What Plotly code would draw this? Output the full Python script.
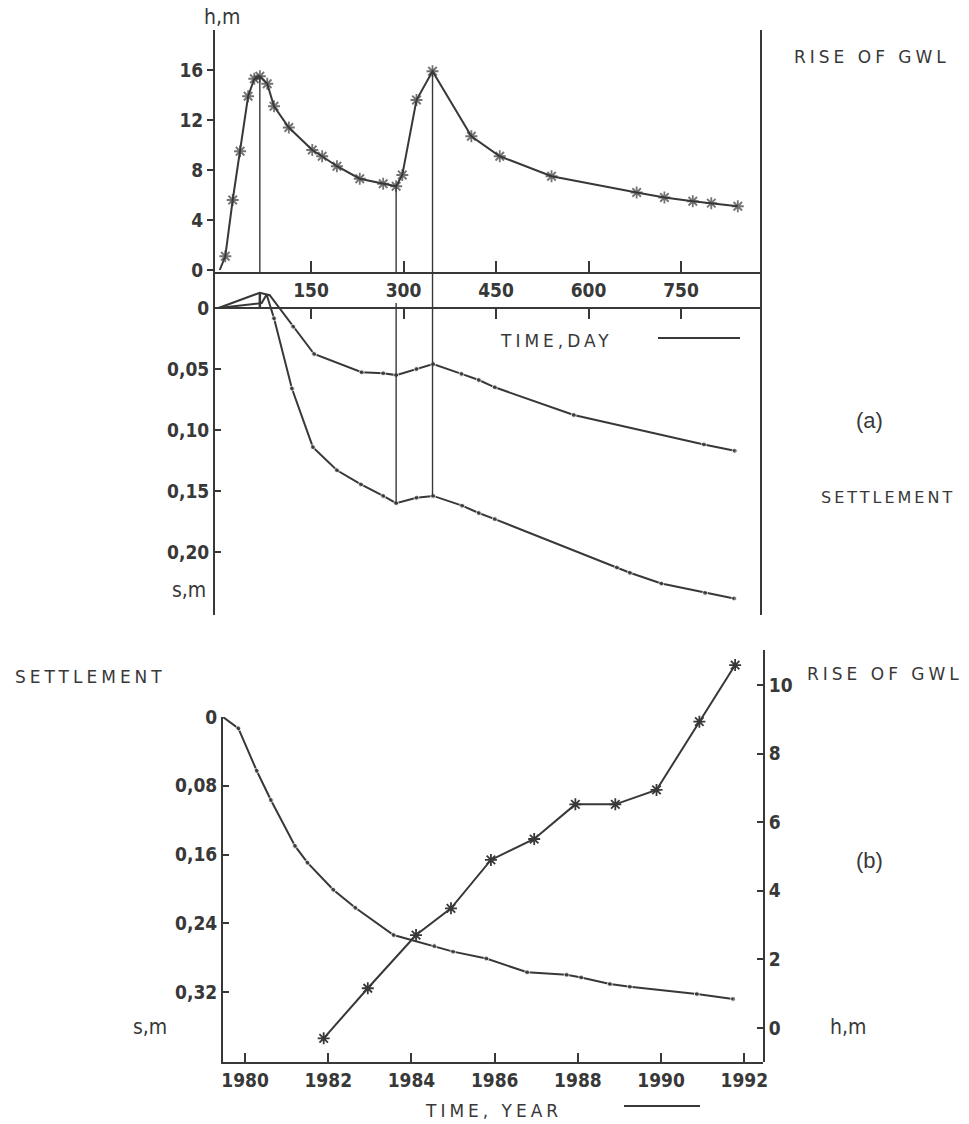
import plotly.graph_objects as go

W, H = 969, 1124
INK = "#383838"

def px(x):
    return x / W

def py(y):
    return 1 - y / H

# ---------------- (a) rise of GWL vs time (days) ----------------
gwl_day = [2, 11, 23, 35, 48, 58, 67, 79, 90, 114, 152, 168, 192, 229, 267, 288, 298, 321, 347,
           410, 456, 540, 678, 723, 769, 799, 842]
gwl_h = [0, 1.1, 5.6, 9.5, 13.9, 15.3, 15.5, 14.9, 13.1, 11.4, 9.6, 9.1, 8.3, 7.3, 6.9, 6.7, 7.6,
         13.6, 15.9, 10.7, 9.1, 7.5, 6.2, 5.8, 5.5, 5.35, 5.1]

# ---------------- (a) settlement vs time (days) ----------------
su_day = [0, 67, 83, 121, 155, 232, 267, 288, 321, 348, 394, 422, 448, 576, 787, 837]
su_s = [0, -0.0125, -0.0105, 0.0153, 0.0377, 0.0527, 0.0535, 0.055, 0.050, 0.0459, 0.054,
        0.059, 0.065, 0.0877, 0.1118, 0.117]
sl_day = [0, 70, 78, 90, 119, 153, 192, 231, 267, 288, 321, 348, 395, 422, 448, 646, 667, 718,
          789, 836]
sl_s = [0, -0.004, -0.011, 0.0085, 0.066, 0.114, 0.133, 0.1446, 0.154, 0.160, 0.1555, 0.154,
        0.162, 0.168, 0.173, 0.2127, 0.217, 0.2258, 0.2335, 0.238]

day_ticks = [150, 300, 450, 600, 750]
h_ticks_a = [0, 4, 8, 12, 16]
s_ticks_a = [0, 0.05, 0.10, 0.15, 0.20]
s_labels_a = ["0", "0,05", "0,10", "0,15", "0,20"]

# ---------------- (b) yearly data ----------------
ys_year = [1979.47, 1979.84, 1980.28, 1980.62, 1981.2, 1981.5, 1982.12, 1982.65, 1983.57,
           1984.55, 1985.0, 1985.8, 1986.78, 1987.73, 1988.08, 1988.77, 1989.25, 1990.86, 1991.73]
ys_s = [0, 0.0132, 0.0625, 0.0966, 0.150, 0.1695, 0.201, 0.222, 0.2537, 0.2665, 0.273, 0.281,
        0.297, 0.300, 0.303, 0.3107, 0.3138, 0.3223, 0.328]
yg_year = [1981.89, 1982.95, 1984.11, 1984.95, 1985.91, 1986.95, 1987.94, 1988.9, 1989.89,
           1990.92, 1991.78]
yg_h = [-0.3, 1.16, 2.71, 3.49, 4.9, 5.51, 6.52, 6.52, 6.94, 8.93, 10.58]

year_ticks = [1980, 1982, 1984, 1986, 1988, 1990, 1992]
s_ticks_b = [0, 0.08, 0.16, 0.24, 0.32]
s_labels_b = ["0", "0,08", "0,16", "0,24", "0,32"]
h_ticks_b = [0, 2, 4, 6, 8, 10]

# indices of the marked events (first peak, trough, second peak)
i_peak1 = gwl_h.index(max(gwl_h[:10]))
i_trough = 15
i_peak2 = gwl_h.index(max(gwl_h))

S_TOP = -0.0295
S_BOT = 0.2516

fig = go.Figure()

line = dict(color=INK, width=2)
thin = dict(color=INK, width=1.4)

fig.add_trace(go.Scatter(
    x=gwl_day, y=gwl_h, xaxis="x", yaxis="y", mode="lines+markers", line=line,
    marker=dict(symbol="asterisk-open", size=[0] + [10] * (len(gwl_h) - 1),
                line=dict(color=INK, width=1.8)),
    showlegend=False, hoverinfo="skip"))

fig.add_trace(go.Scatter(
    x=su_day, y=su_s, xaxis="x2", yaxis="y2", mode="lines+markers", line=line,
    marker=dict(symbol="circle", size=[0, 0, 0] + [5] * (len(su_s) - 3), color=INK),
    showlegend=False, hoverinfo="skip"))
fig.add_trace(go.Scatter(
    x=sl_day, y=sl_s, xaxis="x2", yaxis="y2", mode="lines+markers", line=line,
    marker=dict(symbol="circle", size=[0, 0, 0] + [5] * (len(sl_s) - 3), color=INK),
    showlegend=False, hoverinfo="skip"))

# vertical event lines
for i in (i_peak1, i_trough, i_peak2):
    d = gwl_day[i]
    fig.add_trace(go.Scatter(x=[d, d], y=[gwl_h[i], -0.16], xaxis="x", yaxis="y",
                             mode="lines", line=thin, showlegend=False, hoverinfo="skip"))
fig.add_trace(go.Scatter(x=[gwl_day[i_peak1]] * 2, y=[su_s[1], 0], xaxis="x2", yaxis="y2",
                         mode="lines", line=dict(color=INK, width=2.5), showlegend=False,
                         hoverinfo="skip"))
fig.add_trace(go.Scatter(x=[gwl_day[i_trough]] * 2, y=[-0.004, sl_s[sl_day.index(288)]],
                         xaxis="x2", yaxis="y2", mode="lines", line=thin, showlegend=False,
                         hoverinfo="skip"))
fig.add_trace(go.Scatter(x=[gwl_day[i_peak2]] * 2, y=[S_TOP, sl_s[sl_day.index(348)]],
                         xaxis="x2", yaxis="y2", mode="lines", line=thin, showlegend=False,
                         hoverinfo="skip"))

# (b)
fig.add_trace(go.Scatter(
    x=ys_year, y=ys_s, xaxis="x3", yaxis="y3", mode="lines+markers", line=line,
    marker=dict(symbol="circle", size=[0] + [5] * (len(ys_s) - 1), color=INK),
    showlegend=False, hoverinfo="skip"))
fig.add_trace(go.Scatter(
    x=yg_year, y=yg_h, xaxis="x3", yaxis="y4", mode="lines+markers", line=line,
    marker=dict(symbol="asterisk-open", size=10, line=dict(color=INK, width=1.8)),
    showlegend=False, hoverinfo="skip"))

tickfont = dict(family="DejaVu Sans Condensed, DejaVu Sans", size=19, color=INK, weight="bold")
axcommon = dict(showgrid=False, zeroline=False, showline=True, linecolor=INK, linewidth=2,
                tickcolor=INK, tickwidth=1.5, tickfont=tickfont, fixedrange=True,
                automargin=False)

fig.update_layout(
    template="none",
    width=W, height=H, autosize=False,
    margin=dict(l=0, r=0, t=0, b=0, pad=0, autoexpand=False),
    paper_bgcolor="white", plot_bgcolor="rgba(0,0,0,0)",
    xaxis=dict(domain=[px(215), px(760)], range=[-5.7, 878], anchor="y",
               ticks="inside", ticklen=11, tickvals=day_ticks, **axcommon),
    yaxis=dict(domain=[py(272), py(30)], range=[-0.16, 19.2], anchor="x", mirror=True,
               ticks="outside", ticklen=6, tickvals=h_ticks_a, **axcommon),
    xaxis2=dict(domain=[px(215), px(760)], range=[-5.7, 878], anchor="free", position=py(308),
                ticks="outside", ticklen=10, tickvals=day_ticks, showticklabels=False,
                **axcommon),
    yaxis2=dict(domain=[py(615), py(272)], range=[S_BOT, S_TOP], anchor="x2", mirror=True,
                ticks="inside", ticklen=6, tickvals=s_ticks_a, ticktext=s_labels_a,
                **axcommon),
    xaxis3=dict(domain=[px(223), px(763)], range=[1979.47, 1992.45], anchor="y3",
                ticks="inside", ticklen=9, tickvals=year_ticks, **axcommon),
    yaxis3=dict(domain=[py(1062), py(717)], range=[0.4014, 0], anchor="x3",
                ticks="inside", ticklen=6, tickvals=s_ticks_b, ticktext=s_labels_b,
                **axcommon),
    yaxis4=dict(domain=[py(1062), py(650)], range=[-0.99, 11.02], anchor="x3", side="right",
                ticks="inside", ticklen=6, tickvals=h_ticks_b, **axcommon),
)

def lab(size):
    return dict(family="DejaVu Sans", size=size, color=INK)

hand = dict(family="DejaVu Sans Condensed, DejaVu Sans", size=21, color=INK)

def note(text, x, y, font, xanchor="center"):
    fig.add_annotation(text=text, x=px(x), y=py(y), xref="paper", yref="paper",
                       showarrow=False, font=font, xanchor=xanchor, yanchor="middle")

def sp(text, gap):
    return '<span style="letter-spacing:{}px">{}</span>'.format(gap, text)

note("h,m", 222, 17, hand)
note(sp("RISE OF GWL", 4), 872, 57, lab(17))
note(sp("TIME,DAY", 4), 556, 341, lab(17))
note("(a)", 869, 420, dict(family="Liberation Sans", size=22, color=INK))
note(sp("SETTLEMENT", 3), 888, 497, lab(16))
note("s,m", 208, 590, hand, xanchor="right")
note(sp("SETTLEMENT", 4), 90, 677, lab(17))
note(sp("RISE OF GWL", 4), 885, 674, lab(17))
note("(b)", 869, 860, dict(family="Liberation Sans", size=22, color=INK))
note("h,m", 848, 1027, hand)
note("s,m", 150, 1027, hand)
note(sp("TIME, YEAR", 4), 493, 1111, lab(17))

fig.add_shape(type="line", xref="paper", yref="paper", x0=px(658), x1=px(740),
              y0=py(338), y1=py(338), line=dict(color=INK, width=2))
fig.add_shape(type="line", xref="paper", yref="paper", x0=px(624), x1=px(700),
              y0=py(1106), y1=py(1106), line=dict(color=INK, width=2))

fig.write_html("out.html", config={"displayModeBar": False},
               post_script="document.body.style.margin='0px';"
                           "document.documentElement.style.margin='0px';")
